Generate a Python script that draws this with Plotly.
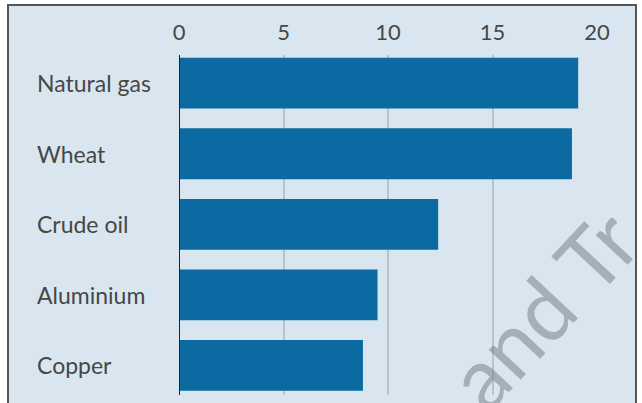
import plotly.graph_objects as go

categories = ["Natural gas", "Wheat", "Crude oil", "Aluminium", "Copper"]
values = [19.1, 18.8, 12.4, 9.5, 8.8]
tick_vals = [0, 5, 10, 15, 20]
tick_text = ["0", "5", "10", "15", "20"]

W, H = 642, 403
L, R, T, B = 179, 45, 55, 8
pw, ph = W - L - R, H - T - B

def px_x(p):
    return (p - L) / pw

def px_y(p):
    return (H - B - p) / ph

BAR = "#0a6aa1"
BG = "#d9e6ef"
TXT = "#474747"

fig = go.Figure()
fig.add_trace(go.Bar(
    x=values, y=list(range(len(categories))), orientation="h",
    marker=dict(color=BAR, line=dict(width=0)), width=0.72,
    hoverinfo="skip",
))

# frame
fig.add_shape(type="rect", xref="paper", yref="paper",
              x0=px_x(8), x1=px_x(636), y0=px_y(420), y1=px_y(5),
              fillcolor=BG, line=dict(color="#555555", width=2), layer="below")

# zero line
fig.add_shape(type="line", xref="x", yref="paper", x0=0, x1=0, y0=0, y1=1,
              line=dict(color="#222222", width=2), layer="above")

for i, c in enumerate(categories):
    fig.add_annotation(x=px_x(35), y=i, xref="paper", yref="y", text=c,
                       showarrow=False, xanchor="left", yanchor="middle",
                       font=dict(family="Lato", size=23, color=TXT))

# watermark
fig.add_annotation(x=px_x(541), y=px_y(308), xref="paper", yref="paper",
                   text="and Tr", showarrow=False, textangle=-47,
                   xanchor="center", yanchor="middle",
                   font=dict(family="Lato", size=86, color="rgba(120,130,138,0.55)"))

fig.update_layout(
    width=W, height=H, margin=dict(l=L, r=R, t=T, b=B),
    paper_bgcolor="white", plot_bgcolor="rgba(0,0,0,0)",
    showlegend=False, bargap=0.28,
    xaxis=dict(side="top", range=[0, 20], tickvals=tick_vals, ticktext=tick_text,
               showgrid=True, gridcolor="#b6c3cc", gridwidth=1.5, zeroline=False,
               ticks="", ticklabelstandoff=10, showline=False,
               tickfont=dict(family="Lato", size=22, color=TXT)),
    yaxis=dict(range=[4.42, -0.4], showticklabels=False, showgrid=False,
               zeroline=False, ticks=""),
)

fig.write_html("out.html", config={"displayModeBar": False},
               post_script="document.body.style.margin='0';document.body.style.padding='0';")
